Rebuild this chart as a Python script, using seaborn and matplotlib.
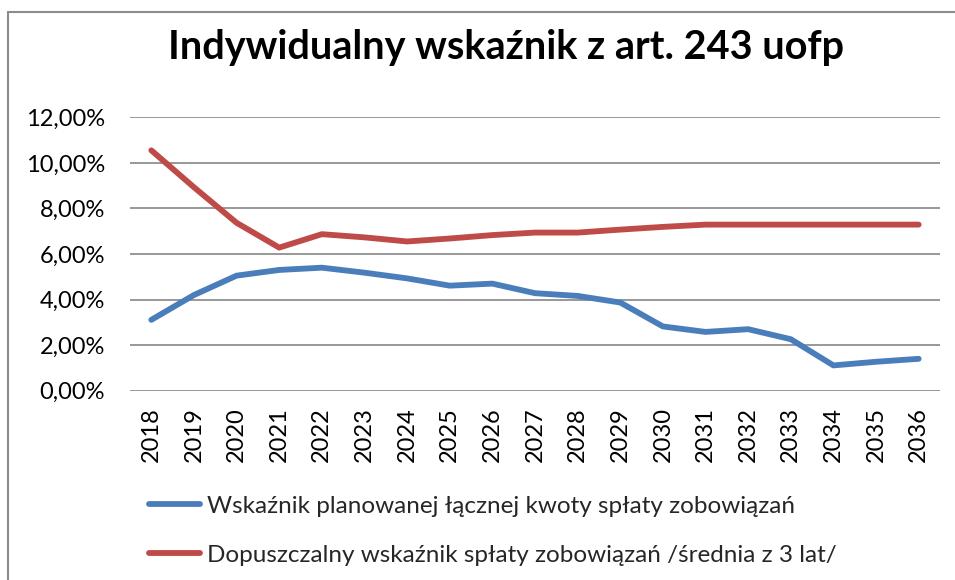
import matplotlib
matplotlib.use("Agg")
import matplotlib.pyplot as plt
from matplotlib.lines import Line2D
from matplotlib.ticker import FuncFormatter, MultipleLocator
import seaborn as sns
import pandas as pd

years = list(range(2018, 2037))
planned = [3.11, 4.20, 5.05, 5.30, 5.40, 5.18, 4.93, 4.61, 4.70, 4.28,
           4.16, 3.87, 2.82, 2.58, 2.70, 2.26, 1.11, 1.27, 1.40]
allowed = [10.55, 8.93, 7.37, 6.28, 6.87, 6.73, 6.55, 6.68, 6.83, 6.94,
           6.94, 7.07, 7.19, 7.29, 7.29, 7.29, 7.29, 7.29, 7.29]
series_names = ["Wskaźnik planowanej łącznej kwoty spłaty zobowiązań",
                "Dopuszczalny wskaźnik spłaty zobowiązań /średnia z 3 lat/"]
colors = ["#4A7EBB", "#BE4B48"]
title = "Indywidualny wskaźnik z art. 243 uofp"

df = pd.DataFrame({
    "rok": years * 2,
    "wartosc": planned + allowed,
    "seria": [series_names[0]] * len(years) + [series_names[1]] * len(years),
})

sns.set_theme(style="white")
plt.rcParams["font.family"] = ["Lato", "DejaVu Sans"]

fig = plt.figure(figsize=(9.55, 5.8), dpi=100)
ax = fig.add_axes([130 / 955, 1 - 390.7 / 580, 810 / 955, 273.4 / 580])

sns.lineplot(data=df, x="rok", y="wartosc", hue="seria", palette=colors,
             linewidth=4.2, ax=ax, legend=False, solid_capstyle="round")

ax.set_xlim(years[0] - 0.5, years[-1] + 0.5)
ax.set_ylim(0, 12)
ax.yaxis.set_major_locator(MultipleLocator(2))
ax.yaxis.set_major_formatter(FuncFormatter(lambda v, p: f"{v:.2f}%".replace(".", ",")))
ax.set_xticks(years)
ax.set_xticklabels([str(y) for y in years], rotation=90)
ax.set_xlabel("")
ax.set_ylabel("")
ax.grid(axis="y", color="#868686", linewidth=1.2)
ax.set_axisbelow(True)
for s in ax.spines.values():
    s.set_visible(False)
ax.tick_params(axis="y", length=0, pad=18, labelsize=17, labelcolor="black")
ax.tick_params(axis="x", length=0, pad=12, labelsize=17, labelcolor="black")

fig.text(0.530, 1 - 48 / 580, title, ha="center", va="center",
         fontsize=28.5, fontweight="bold", color="black")

handles = [Line2D([0], [0], color=c, linewidth=4.2, solid_capstyle="round") for c in colors]
fig.legend(handles, series_names, loc="upper left",
           bbox_to_anchor=(127 / 955, 1 - 474 / 580), frameon=False,
           fontsize=17.5, handlelength=2.1, handletextpad=0.3, labelspacing=1.15)

# chart frame edges
fig.add_artist(Line2D([8 / 955, 8 / 955], [0, 1 - 12 / 580], transform=fig.transFigure,
                      color="#8c8c8c", linewidth=1.5))
fig.add_artist(Line2D([8 / 955, 1], [1 - 12 / 580, 1 - 12 / 580], transform=fig.transFigure,
                      color="#8c8c8c", linewidth=1.5))

fig.savefig("out.png", dpi=100, facecolor="white")
